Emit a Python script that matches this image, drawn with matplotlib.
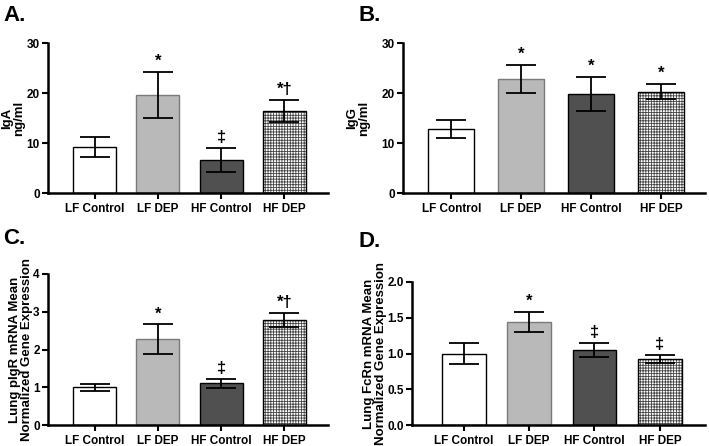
import matplotlib.pyplot as plt

plt.rcParams['font.family'] = ['Liberation Sans', 'DejaVu Sans']
plt.rcParams['font.weight'] = 'bold'
plt.rcParams['hatch.linewidth'] = 0.6

groups = ['LF Control', 'LF DEP', 'HF Control', 'HF DEP']

iga_mean = [9.3, 19.6, 6.6, 16.5]
iga_err = [2.0, 4.7, 2.4, 2.2]
iga_marks = ['', '*', '‡', '*†']

igg_mean = [12.8, 22.9, 19.9, 20.3]
igg_err = [1.8, 2.8, 3.4, 1.5]
igg_marks = ['', '*', '*', '*']

pigr_mean = [1.0, 2.27, 1.10, 2.78]
pigr_err = [0.09, 0.40, 0.12, 0.18]
pigr_marks = ['', '*', '‡', '*†']

fcrn_mean = [1.0, 1.44, 1.05, 0.925]
fcrn_err = [0.145, 0.14, 0.10, 0.055]
fcrn_marks = ['', '*', '‡', '‡']

fills = ['white', '#b9b9b9', '#505050', 'white']
edges = ['black', '#7a7a7a', 'black', 'black']


def bar_panel(ax, means, errs, marks, ylabel, yticks, ylim, xlim, width, label_x):
    x = range(len(groups))
    for i in x:
        if i == 3:
            # hatched bar: pattern first, outline on top
            ax.bar(i, means[i], width, color='white', edgecolor='#444444',
                   hatch='++++++', linewidth=0, zorder=2)
            ax.bar(i, means[i], width, color='none', edgecolor='black',
                   linewidth=1, zorder=3)
        else:
            ax.bar(i, means[i], width, color=fills[i], edgecolor=edges[i],
                   linewidth=1, zorder=2)
    ax.errorbar(list(x), means, yerr=errs, fmt='none', ecolor='black',
                elinewidth=1.3, capsize=11, capthick=1.3, zorder=4)
    for i in x:
        if marks[i]:
            ax.annotate(marks[i], (i, means[i] + errs[i]), xytext=(0, 2),
                        textcoords='offset points', ha='center', va='bottom',
                        fontsize=12, fontweight='bold')
    ax.set_xlim(*xlim)
    ax.set_ylim(*ylim)
    ax.set_yticks(yticks)
    ax.set_xticks(list(x))
    ax.set_xticklabels(groups, fontsize=8.5, fontweight='bold')
    ax.tick_params(axis='y', labelsize=8.5, width=1.5, length=4, pad=2)
    ax.tick_params(axis='x', width=1.5, length=4)
    ax.spines['top'].set_visible(False)
    ax.spines['right'].set_visible(False)
    ax.spines['left'].set_linewidth(1.8)
    ax.spines['bottom'].set_linewidth(1.8)
    ax.set_ylabel(ylabel, fontsize=9.5, fontweight='bold', linespacing=1.0)
    ax.yaxis.set_label_coords(label_x, 0.5)


W, H = 709, 446
fig = plt.figure(figsize=(W / 100, H / 100), dpi=100)


def axes_px(x0, x1, ytop, ybot):
    return fig.add_axes([x0 / W, 1 - ybot / H, (x1 - x0) / W, (ybot - ytop) / H])


axA = axes_px(48, 328, 43, 193)
axB = axes_px(403, 705, 43, 193)
axC = axes_px(48, 328, 274, 425)
axD = axes_px(412, 705, 282, 425)

bar_panel(axA, iga_mean, iga_err, iga_marks, 'IgA\nng/ml', [0, 10, 20, 30],
          (0, 30), (-0.74, 3.69), 0.68, -0.082)
bar_panel(axB, igg_mean, igg_err, igg_marks, 'IgG\nng/ml', [0, 10, 20, 30],
          (0, 30), (-0.69, 3.63), 0.66, -0.109)
bar_panel(axC, pigr_mean, pigr_err, pigr_marks,
          'Lung pIgR mRNA Mean\nNormalized Gene Expression', [0, 1, 2, 3, 4],
          (0, 4), (-0.74, 3.69), 0.68, -0.054)
bar_panel(axD, fcrn_mean, fcrn_err, fcrn_marks,
          'Lung FcRn mRNA Mean\nNormalized Gene Expression',
          [0.0, 0.5, 1.0, 1.5, 2.0], (0, 2.0), (-0.79, 3.69), 0.67, -0.084)
axD.set_yticklabels(['0.0', '0.5', '1.0', '1.5', '2.0'])

# panel letters, placed in figure pixels
for letter, px, py in [('A.', 3, 5), ('B.', 358, 5), ('C.', 3, 228), ('D.', 359, 231)]:
    fig.text(px / W, 1 - py / H, letter, fontsize=16, fontweight='bold',
             ha='left', va='top')

fig.savefig('out.png', dpi=100)
